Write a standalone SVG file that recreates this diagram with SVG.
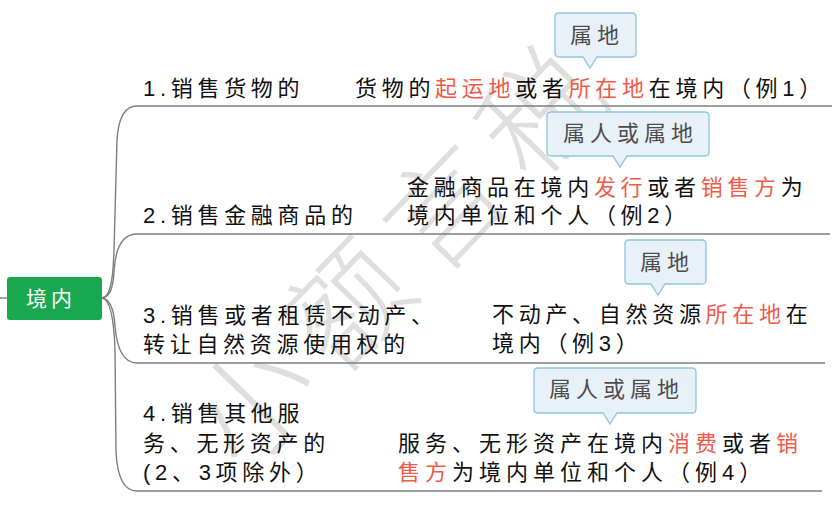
<svg xmlns="http://www.w3.org/2000/svg" width="832" height="514" viewBox="0 0 832 514">
<style>
.t{font-family:"Liberation Sans","Noto Sans CJK SC",sans-serif;font-size:22px;letter-spacing:4.7px;fill:#111}
.r{fill:#f05a4a}
.cb{fill:#e8f0f8;stroke:#8cc6de;stroke-width:1.3}
.ct{font-family:"Noto Sans CJK SC",sans-serif;font-size:22px;letter-spacing:5px;fill:#4d4d4d}
.ln{fill:none;stroke:#7f7f7f;stroke-width:1.4}
.wm{font-family:"Noto Sans CJK SC",sans-serif;font-size:118px;font-weight:300;fill:#000;opacity:0.12}
</style>
<rect width="832" height="514" fill="#fff"/>
<g id="watermark">
<text class="wm" x="0" y="44" text-anchor="middle" transform="translate(252,402) rotate(-46)">小</text>
<text class="wm" x="0" y="44" text-anchor="middle" transform="translate(348,304) rotate(-46)">额</text>
<text class="wm" x="0" y="44" text-anchor="middle" transform="translate(444,207) rotate(-46)">言</text>
<text class="wm" x="0" y="44" text-anchor="middle" transform="translate(540,112) rotate(-46)">税</text>
</g>
<g id="connectors">
<path class="ln" d="M0,298 H8"/>
<path class="ln" d="M102,298 C110,297 113,282 114,250 L117,140 Q119,106 137,106 H832"/>
<path class="ln" d="M102,298 C110,297 113,288 114,272 Q116,234 137,234 H830"/>
<path class="ln" d="M102,298 C110,299 114,310 115,326 Q118,363 137,363 H825"/>
<path class="ln" d="M102,298 C110,299 114,320 115,350 L116,452 Q118,491 137,491 H822"/>
</g>
<g id="root">
<rect x="7" y="277" width="95" height="43" rx="3" fill="#19a84f"/>
<text class="t" x="26" y="306" style="fill:#fff;font-size:21px;letter-spacing:4px">境内</text>
</g>
<g id="b1">
<text class="t" x="143" y="96">1.销售货物的</text>
</g>
<g id="b1c">
<text class="t" x="355" y="96">货物的<tspan class="r">起运地</tspan>或者<tspan class="r">所在地</tspan>在境内（例1）</text>
</g>
<g id="call1">
<path class="cb" d="M559,13 H632 Q636,13 636,17 V53 Q636,57 632,57 H597 L590,68 L583,57 H559 Q555,57 555,53 V17 Q555,13 559,13 Z"/>
<text class="ct" x="570" y="43">属地</text>
</g>
<g id="b2">
<text class="t" x="143" y="223">2.销售金融商品的</text>
</g>
<g id="b2c">
<text class="t" x="407" y="195">金融商品在境内<tspan class="r">发行</tspan>或者<tspan class="r">销售方</tspan>为</text>
<text class="t" x="407" y="223">境内单位和个人（例2）</text>
</g>
<g id="call2">
<path class="cb" d="M551,112 H705 Q709,112 709,116 V152 Q709,156 705,156 H627 L620,167 L613,156 H551 Q547,156 547,152 V116 Q547,112 551,112 Z"/>
<text class="ct" x="563" y="141">属人或属地</text>
</g>
<g id="b3">
<text class="t" x="143" y="323">3.销售或者租赁不动产、</text>
<text class="t" x="143" y="352">转让自然资源使用权的</text>
</g>
<g id="b3c">
<text class="t" x="492" y="322">不动产、自然资源<tspan class="r">所在地</tspan>在</text>
<text class="t" x="492" y="351">境内（例3）</text>
</g>
<g id="call3">
<path class="cb" d="M629,240 H702 Q706,240 706,244 V280 Q706,284 702,284 H665 L658,295 L651,284 H629 Q625,284 625,280 V244 Q625,240 629,240 Z"/>
<text class="ct" x="640" y="270">属地</text>
</g>
<g id="b4">
<text class="t" x="143" y="421">4.销售其他服</text>
<text class="t" x="143" y="451">务、无形资产的</text>
<text class="t" x="143" y="480">(2、3项除外）</text>
</g>
<g id="b4c">
<text class="t" x="398" y="451" style="letter-spacing:5px">服务、无形资产在境内<tspan class="r">消费</tspan>或者<tspan class="r">销</tspan></text>
<text class="t" x="398" y="480" style="letter-spacing:5px"><tspan class="r">售方</tspan>为境内单位和个人（例4）</text>
</g>
<g id="call4">
<path class="cb" d="M538,368 H692 Q696,368 696,372 V409 Q696,413 692,413 H617 L610,424 L603,413 H538 Q534,413 534,409 V372 Q534,368 538,368 Z"/>
<text class="ct" x="549" y="397">属人或属地</text>
</g>
</svg>
